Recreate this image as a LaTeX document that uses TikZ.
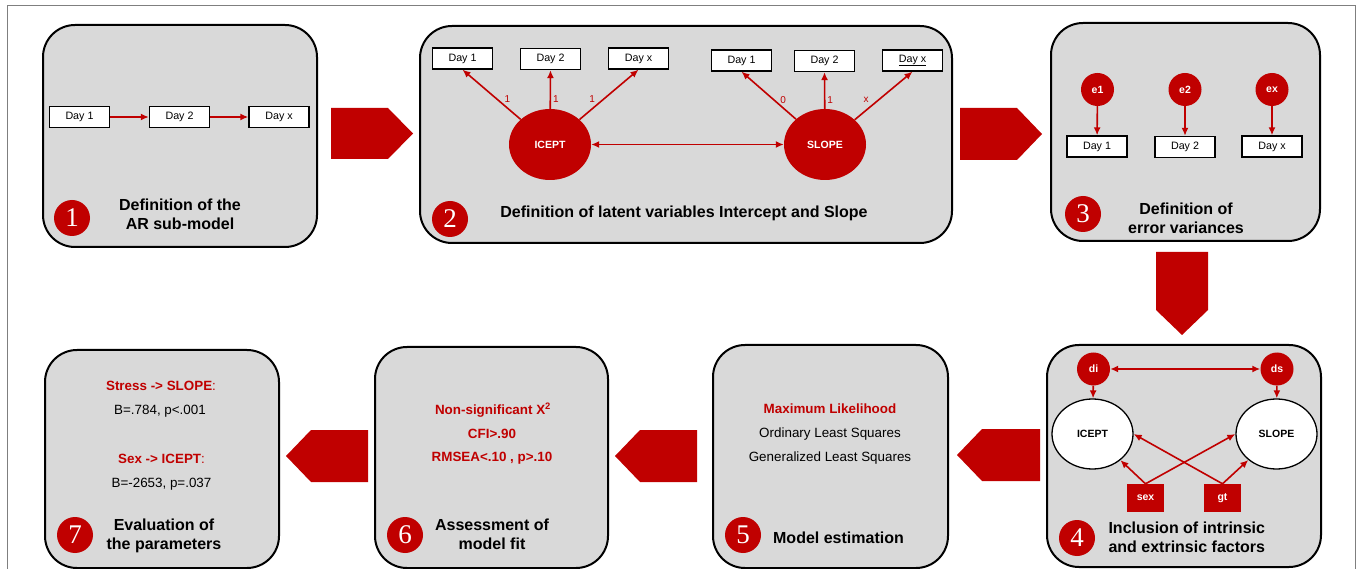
\documentclass[tikz,border=0pt]{standalone}
\usepackage{fontspec}
\setmainfont{Liberation Sans}
\newfontfamily\numfont{Liberation Serif}
\usepackage{xcolor}
\usetikzlibrary{arrows.meta}
\usetikzlibrary{shapes.geometric}

\definecolor{sred}{HTML}{C00000}
\definecolor{panelgray}{HTML}{D9D9D9}
\definecolor{framegray}{HTML}{7F7F7F}

\tikzset{
  panel/.style={draw=black, line width=2pt, fill=panelgray, rounded corners=32pt},
  daybox/.style={draw=black, line width=1.3pt, fill=white, minimum width=60pt, minimum height=21pt, inner sep=0pt, font=\fontsize{10.7}{12}\selectfont},
  redlat/.style={ellipse, fill=sred, minimum width=82pt, minimum height=71pt, inner sep=0pt, text=white, font=\bfseries\fontsize{10.5}{12}\selectfont},
  whitelat/.style={ellipse, draw=black, line width=1.3pt, fill=white, minimum width=81pt, minimum height=70pt, inner sep=0pt, font=\bfseries\fontsize{10.5}{12}\selectfont},
  errcirc/.style={circle, fill=sred, minimum size=33pt, inner sep=0pt, text=white, font=\bfseries\fontsize{10.5}{12}\selectfont},
  covbox/.style={fill=sred, minimum width=37pt, minimum height=28pt, inner sep=0pt, text=white, font=\bfseries\fontsize{10.5}{12}\selectfont},
  stepnum/.style={circle, fill=sred, minimum size=36pt, inner sep=0pt, text=white, font=\numfont\fontsize{27}{27}\selectfont},
  redline/.style={draw=sred, line width=1.6pt, -{Latex[length=8pt,width=7pt]}},
  bothline/.style={draw=sred, line width=1.6pt, {Latex[length=8pt,width=7pt]}-{Latex[length=8pt,width=7pt]}},
  loading/.style={text=sred, font=\fontsize{10}{12}\selectfont, inner sep=1pt},
  stagetitle/.style={font=\bfseries\fontsize{16}{19}\selectfont, align=center},
  bodytext/.style={font=\fontsize{13.4}{16}\selectfont},
  bodyred/.style={text=sred, font=\bfseries\fontsize{13.4}{16}\selectfont},
  flow/.style={fill=sred}
}

\begin{document}
\begin{tikzpicture}[x=1pt, y=-1pt]
\useasboundingbox (0,0) rectangle (1358,569);

% frame and panels
\draw[framegray, line width=1pt] (7,569) -- (7,6) -- (1355,6) -- (1355,569);
\draw[panel] (43,25) rectangle (317,247);
\draw[panel] (420,26) rectangle (952,243);
\draw[panel] (1051,23) rectangle (1320,241);
\draw[panel] (1047,345) rectangle (1321,567);
\draw[panel] (713,345) rectangle (948,568);
\draw[panel] (375,347) rectangle (608,568);
\draw[panel] (45,350) rectangle (279,568);

% flow arrows
\fill[flow] (331,108) -- (388,108) -- (413,133.5) -- (388,159) -- (331,159) -- cycle;
\fill[flow] (960,108) -- (1017,108) -- (1042,134) -- (1017,160) -- (960,160) -- cycle;
\fill[flow] (1156,252) -- (1208,252) -- (1208,310) -- (1182,335) -- (1156,310) -- cycle;
\fill[flow] (1040,429) -- (982,429) -- (957,455) -- (982,481) -- (1040,481) -- cycle;
\fill[flow] (697,430) -- (640,430) -- (615,456) -- (640,482) -- (697,482) -- cycle;
\fill[flow] (368,430) -- (311,430) -- (286,456) -- (311,482) -- (368,482) -- cycle;

% 1: AR sub-model
\node[daybox] (ar1) at (79.5,117) {Day 1};
\node[daybox] (ar2) at (179.5,117) {Day 2};
\node[daybox] (arx) at (279,117) {Day x};
\draw[redline] (ar1) -- (ar2);
\draw[redline] (ar2) -- (arx);
\node[stepnum] (n1) at (72,218) {1};
\node[stagetitle] (t1) at (180,214.5) {Definition of the\\AR sub-model};

% 2: intercept and slope
\node[daybox] (ia1) at (462.5,58.5) {Day 1};
\node[daybox] (ia2) at (550.5,59) {Day 2};
\node[daybox] (iax) at (638.5,58.5) {Day x};
\node[daybox] (sa1) at (741.5,60.5) {Day 1};
\node[daybox] (sa2) at (824.5,61) {Day 2};
\node[daybox] (sax) at (912.5,60.5) {\underline{Day x}};
\node[redlat] (icept) at (550,144.5) {ICEPT};
\node[redlat] (slope) at (825,144.5) {SLOPE};
\draw[redline] (icept) -- node[loading, pos=.41, right=6pt] {1} (ia1.south);
\draw[redline] (icept) -- node[loading, pos=.25, right=1pt] {1} (ia2.south);
\draw[redline] (icept) -- node[loading, pos=.41, left=7pt] {1} (iax.south);
\draw[redline] (slope) -- node[loading, pos=.41, right=5pt] {0} (sa1.south);
\draw[redline] (slope) -- node[loading, pos=.25, right=1pt] {1} (sa2.south);
\draw[redline] (slope) -- node[loading, pos=.41, left=8pt] {x} (sax.south);
\draw[bothline] (icept) -- (slope);
\node[stepnum] (n2) at (450,219) {2};
\node[stagetitle] (t2) at (684,213) {Definition of latent variables Intercept and Slope};

% 3: error variances
\node[errcirc] (e1) at (1097.5,89.5) {e1};
\node[errcirc] (e2) at (1185,89.5) {e2};
\node[errcirc] (ex) at (1272,89.5) {ex};
\node[daybox] (ev1) at (1097,146.5) {Day 1};
\node[daybox] (ev2) at (1185,147) {Day 2};
\node[daybox] (evx) at (1272,146.5) {Day x};
\draw[redline] (e1) -- (ev1);
\draw[redline] (e2) -- (ev2);
\draw[redline] (ex) -- (evx);
\node[stepnum] (n3) at (1083,214) {3};
\node[stagetitle] (t3) at (1186,218) {Definition of\\error variances};

% 4: intrinsic and extrinsic factors
\node[errcirc] (di) at (1093.5,369) {di};
\node[errcirc] (ds) at (1277,369) {ds};
\node[whitelat] (icept2) at (1092.5,434) {ICEPT};
\node[whitelat] (slope2) at (1276.5,434) {SLOPE};
\node[covbox] (sex) at (1145.5,498) {sex};
\node[covbox] (gt) at (1222.5,498) {gt};
\draw[bothline] (di) -- (ds);
\draw[redline] (di) -- (icept2);
\draw[redline] (ds) -- (slope2);
\draw[redline] (sex.north) -- (icept2);
\draw[redline] (sex.north) -- (slope2.west);
\draw[redline] (gt.north) -- (icept2.east);
\draw[redline] (gt.north) -- (slope2);
\node[stepnum] (n4) at (1077,538) {4};
\node[stagetitle, align=left, anchor=west] (t4) at (1105,537) {Inclusion of intrinsic\\and extrinsic factors};

% 5: estimation
\node[bodyred] (ml) at (830,409) {Maximum Likelihood};
\node[bodytext] (ols) at (830,434) {Ordinary Least Squares};
\node[bodytext] (gls) at (830,458) {Generalized Least Squares};
\node[stepnum] (n5) at (743,535) {5};
\node[stagetitle] (t5) at (838.5,538) {Model estimation};

% 6: model fit
\node[bodyred] (chi) at (493,410) {Non-significant X\textsuperscript{2}};
\node[bodyred] (cfi) at (492,434) {CFI>.90};
\node[bodyred] (rmsea) at (492,458) {RMSEA<.10 , p>.10};
\node[stepnum] (n6) at (405,535) {6};
\node[stagetitle] (t6) at (492,534.5) {Assessment of\\model fit};

% 7: parameters
\node[bodyred] (stress) at (161,386) {Stress -> SLOPE\mdseries:};
\node[bodytext] (bstress) at (160,411) {B=.784, p<.001};
\node[bodyred] (sexeff) at (161.5,459) {Sex -> ICEPT\mdseries:};
\node[bodytext] (bsex) at (161.5,484) {B=-2653, p=.037};
\node[stepnum] (n7) at (75,535) {7};
\node[stagetitle] (t7) at (164,535.5) {Evaluation of\\the parameters};
\end{tikzpicture}
\end{document}
